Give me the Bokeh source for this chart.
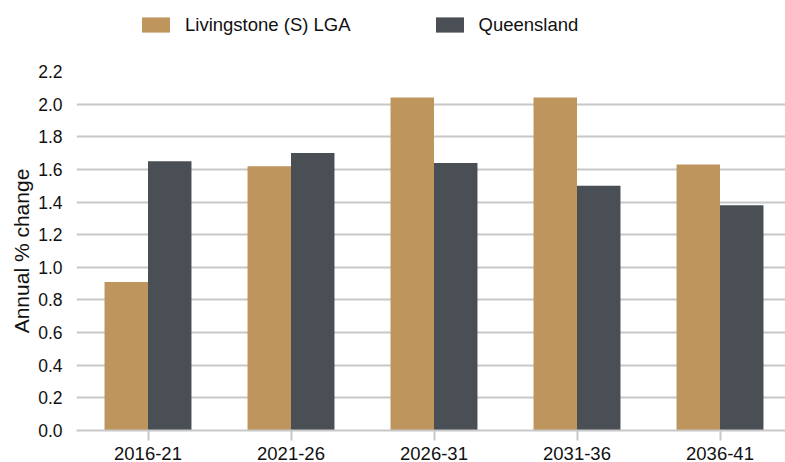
from bokeh.plotting import figure
from bokeh.layouts import column
from bokeh.models import (ColumnDataSource, Range1d, FixedTicker, Legend, LegendItem,
                          NumeralTickFormatter)
from bokeh.transform import dodge
from bokeh.embed import file_html
from bokeh.resources import INLINE

periods = ["2016-21", "2021-26", "2026-31", "2031-36", "2036-41"]
livingstone = [0.91, 1.62, 2.04, 2.04, 1.63]
queensland = [1.65, 1.70, 1.64, 1.50, 1.38]
y_ticks = [0.0, 0.2, 0.4, 0.6, 0.8, 1.0, 1.2, 1.4, 1.6, 1.8, 2.0, 2.2]

series_names = ["Livingstone (S) LGA", "Queensland"]
colors = ["#BE955C", "#4A4E55"]

pos = [i + 0.5 for i in range(len(periods))]
src = ColumnDataSource(dict(x=pos, liv=livingstone, qld=queensland))

FONT = "Liberation Sans"
TXT = "#111111"
bw = 0.304

# ---- legend strip (top); its frame is aligned with the chart frame ----
LEG_H = 50
lf = figure(width=785, height=LEG_H, output_backend="svg", toolbar_location=None,
            x_range=Range1d(0, 4.958), y_range=Range1d(0, 2.2),
            x_axis_type=None, y_axis_type=None,
            min_border_left=76, min_border_right=0, min_border_top=0,
            min_border_bottom=0)
lf.outline_line_color = None
lf.xgrid.grid_line_color = None
lf.ygrid.grid_line_color = None
# hidden copies of the series: only their legend swatches are shown
d1 = lf.vbar(x=dodge("x", -bw / 2), top="liv", width=bw, source=src,
             fill_color=colors[0], line_color=None, visible=False)
d2 = lf.vbar(x=dodge("x", bw / 2), top="qld", width=bw, source=src,
             fill_color=colors[1], line_color=None, visible=False)
legend = Legend(items=[LegendItem(label=series_names[0], renderers=[d1]),
                       LegendItem(label=series_names[1], renderers=[d2])],
                orientation="horizontal", location=(62, LEG_H - 35.5),
                glyph_width=35, glyph_height=19, label_standoff=12, spacing=81,
                padding=0, margin=0, border_line_color=None,
                background_fill_alpha=0, inactive_fill_alpha=0,
                label_text_font=FONT, label_text_font_size="18.5px",
                label_text_color=TXT)
lf.add_layout(legend, "center")

# ---- main chart ----
p = figure(width=785, height=462 - LEG_H, output_backend="svg", toolbar_location=None,
           x_range=Range1d(0, 4.958), y_range=Range1d(0, 2.2),
           min_border_left=76, min_border_right=0, min_border_top=71 - LEG_H,
           min_border_bottom=32)
p.outline_line_color = None
p.background_fill_color = "white"

r1 = p.vbar(x=dodge("x", -bw / 2), top="liv", width=bw, source=src,
            fill_color=colors[0], line_color=None)
r2 = p.vbar(x=dodge("x", bw / 2), top="qld", width=bw, source=src,
            fill_color=colors[1], line_color=None)

p.xaxis.ticker = FixedTicker(ticks=pos)
p.xaxis.major_label_overrides = {x: c for x, c in zip(pos, periods)}
p.xaxis.axis_line_color = "#C8C8C8"
p.xaxis.axis_line_width = 2
p.xaxis.major_tick_line_color = "#C8C8C8"
p.xaxis.major_tick_line_width = 2
p.xaxis.major_tick_out = 10
p.xaxis.major_tick_in = 0
p.xaxis.minor_tick_line_color = None
p.xaxis.major_label_text_font = FONT
p.xaxis.major_label_text_font_size = "18.5px"
p.xaxis.major_label_text_color = TXT
p.xaxis.major_label_standoff = 6

p.yaxis.ticker = FixedTicker(ticks=y_ticks)
p.yaxis.formatter = NumeralTickFormatter(format="0.0")
p.yaxis.axis_line_color = None
p.yaxis.major_tick_line_color = None
p.yaxis.minor_tick_line_color = None
p.yaxis.major_label_text_font = FONT
p.yaxis.major_label_text_font_size = "17.5px"
p.yaxis.major_label_text_color = TXT
p.yaxis.major_label_standoff = 8
p.yaxis.axis_label = "Annual % change"
p.yaxis.axis_label_text_font = FONT
p.yaxis.axis_label_text_font_size = "21px"
p.yaxis.axis_label_text_font_style = "normal"
p.yaxis.axis_label_text_color = TXT
p.yaxis.axis_label_standoff = 2

p.xgrid.grid_line_color = None
p.ygrid.grid_line_color = "#C8C8C8"
p.ygrid.grid_line_width = 2

layout = column(lf, p, spacing=0)
open("out.html", "w").write(file_html(layout, INLINE))
